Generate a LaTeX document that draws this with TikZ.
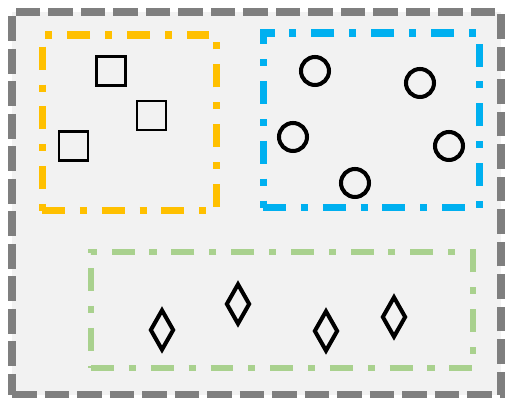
\documentclass[tikz,border=0pt]{standalone}
\usepackage{tikz}
\usetikzlibrary{shapes.geometric}
\definecolor{framegray}{HTML}{7F7F7F}
\definecolor{panelfill}{HTML}{F2F2F2}
\definecolor{setyellow}{HTML}{FFC000}
\definecolor{setblue}{HTML}{00B0F0}
\definecolor{setgreen}{HTML}{A9D18E}

\begin{document}
\begin{tikzpicture}[x=0.02cm, y=-0.02cm,
	groupbox/.style={rectangle, inner sep=0pt, line width=4pt,
		dash pattern=on 13pt off 8.5pt on 4pt off 8.5pt}]
	\useasboundingbox (0,0) rectangle (505,398);
	\node [rectangle, draw=framegray, fill=panelfill, line width=4.5pt,
		dash pattern=on 14pt off 4.5pt, inner sep=0pt,
		minimum width=9.78cm, minimum height=7.66cm] (frame) at (256.5,203.5) {};
	\node [groupbox, draw=setyellow, minimum width=3.5cm, minimum height=3.52cm] (squares) at (129.5,123) {};
	\node [groupbox, draw=setblue, minimum width=4.34cm, minimum height=3.5cm] (circles) at (371.5,120.5) {};
	\node [groupbox, draw=setgreen, line width=3.4pt, minimum width=7.64cm, minimum height=2.32cm] (diamonds) at (282,310) {};
	\begin{scope}[every node/.style={rectangle, draw=black, line width=1.4pt,
		inner sep=0pt, minimum size=0.58cm}]
		\node (s1) at (111,71) {};
		\node (s2) at (151.5,115.5) {};
		\node (s3) at (73.5,146) {};
	\end{scope}
	\begin{scope}[every node/.style={circle, draw=black, line width=2.3pt,
		inner sep=0pt, minimum size=0.56cm}]
		\node (c1) at (315,71) {};
		\node (c2) at (420,83) {};
		\node (c3) at (293,137) {};
		\node (c4) at (449,146) {};
		\node (c5) at (355,183) {};
	\end{scope}
	\begin{scope}[every node/.style={diamond, draw=black, line width=2.3pt,
		inner sep=0pt, minimum width=0.48cm, minimum height=0.82cm}]
		\node (d1) at (162,330) {};
		\node (d2) at (238,304) {};
		\node (d3) at (326,331) {};
		\node (d4) at (394,317) {};
	\end{scope}
\end{tikzpicture}
\end{document}
